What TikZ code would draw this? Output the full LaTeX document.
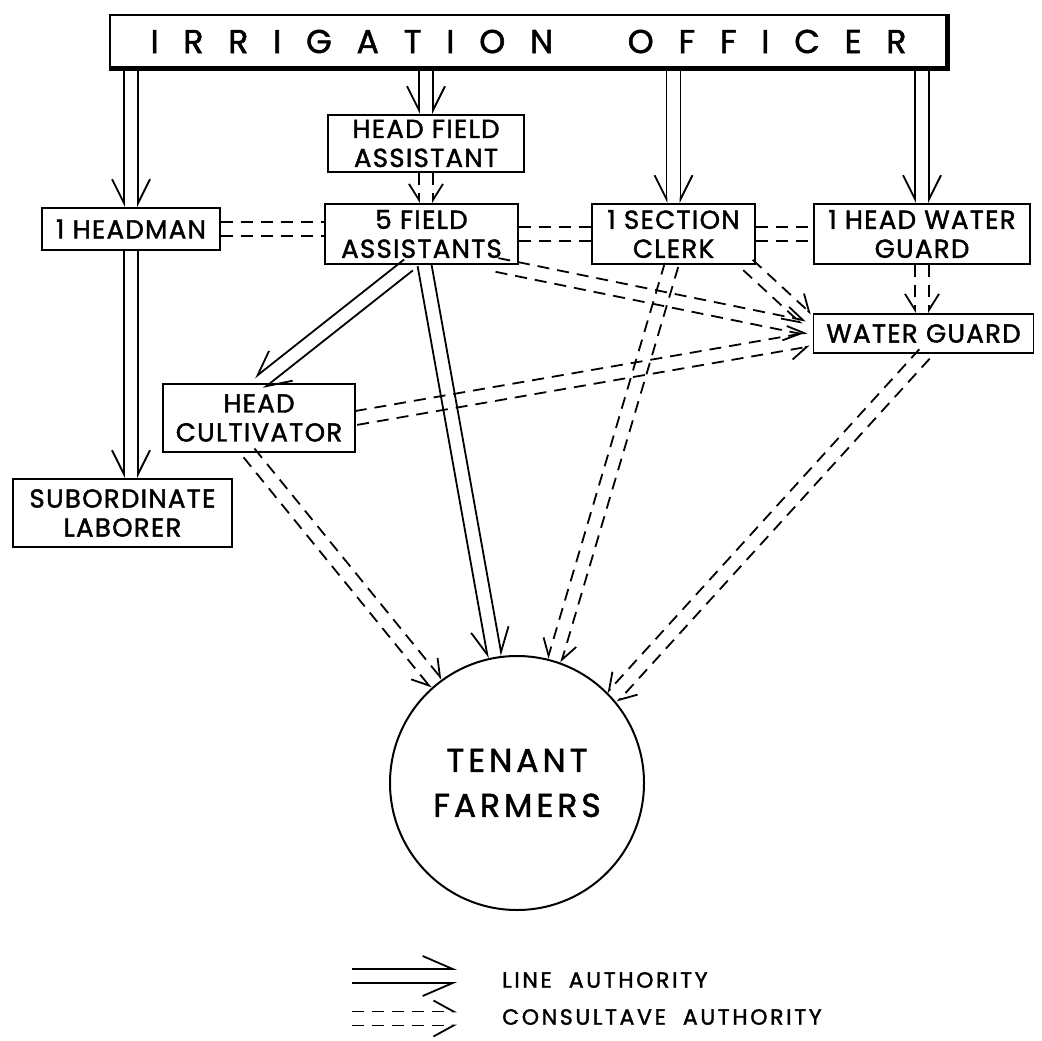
\documentclass[tikz,border=0pt]{standalone}
\usepackage{fontspec}
\setmainfont{Poppins}[FakeBold=1.6, LetterSpace=5]
\newfontfamily\wideff{Poppins}[FakeBold=1.6, LetterSpace=12]
\newfontfamily\plainff{Poppins}[FakeBold=1.6]
\usetikzlibrary{arrows.meta,calc}
\newcommand\dconn[4]{%
  \draw[#1,-{Straight Barb[left,#2]}] ($(#3)!7pt!90:(#4)$) -- ($(#4)!7pt!-90:(#3)$);
  \draw[#1,-{Straight Barb[right,#2]}] ($(#3)!7pt!-90:(#4)$) -- ($(#4)!7pt!90:(#3)$);
}
\newcommand\dplain[3]{%
  \draw[#1] ($(#2)!7pt!90:(#3)$) -- ($(#3)!7pt!-90:(#2)$);
  \draw[#1] ($(#2)!7pt!-90:(#3)$) -- ($(#3)!7pt!90:(#2)$);
}
\begin{document}
\begin{tikzpicture}[x=1pt,y=-1pt,
  box/.style={draw, line width=1.9pt, inner sep=0pt, align=center,
    font=\fontsize{26}{29}\selectfont},
  lineconn/.style={line width=1.8pt},
  consconn/.style={line width=1.8pt, dash pattern=on 12pt off 8pt},
  legtext/.style={anchor=west, inner sep=0pt, font=\wideff\fontsize{22}{22}\selectfont},
]
\useasboundingbox (0,0) rectangle (1042,1041);
% nodes
\node[draw, line width=1.9pt, minimum width=837pt, minimum height=53pt, inner sep=0pt] (io) at (528.5,41.5)
  {\makebox[756pt]{\plainff\fontsize{33}{33}\selectfont I\hfill R\hfill R\hfill I\hfill G\hfill A\hfill T\hfill I\hfill O\hfill N\hfill\hfill\hfill O\hfill F\hfill F\hfill I\hfill C\hfill E\hfill R}};
\draw[line width=5pt] (io.south west) -- (io.south east) -- (io.north east);
\node[box, minimum width=196pt, minimum height=57pt] (hfa) at (426,143.5) {HEAD FIELD\\ASSISTANT};
\node[box, minimum width=178pt, minimum height=42pt] (hm) at (131,229) {1 HEADMAN};
\node[box, minimum width=193pt, minimum height=60pt] (fa) at (421.5,234) {5 FIELD\\ASSISTANTS};
\node[box, minimum width=163pt, minimum height=60pt] (sc) at (673.5,234) {1 SECTION\\CLERK};
\node[box, minimum width=216pt, minimum height=60pt] (hwg) at (922,234) {1 HEAD WATER\\GUARD};
\node[box, minimum width=220pt, minimum height=39pt] (wg) at (923.5,333.5) {WATER GUARD};
\node[box, minimum width=192pt, minimum height=68pt] (hc) at (259,418) {HEAD\\CULTIVATOR};
\node[box, minimum width=219pt, minimum height=68pt] (sl) at (122.5,513) {SUBORDINATE\\LABORER};
\node[draw, circle, line width=2pt, minimum size=254pt, inner sep=0pt, align=center,
  font=\wideff\fontsize{33}{45}\selectfont] (tf) at (517,783) {TENANT\\FARMERS};
% endpoints
\coordinate (c1s) at (hm.north |- io.south);
\coordinate (c2s) at (hfa.north |- io.south);
\coordinate (c3s) at (sc.north |- io.south);
\coordinate (c4s) at (hwg.north |- io.south);
\coordinate (c5e) at (hm.south |- sl.north);
\coordinate (c6s) at ($(fa.south)+(-13,0)$);
\coordinate (c7s) at ($(fa.south)+(3,0)$);
\coordinate (d8e) at (hfa.south |- fa.north);
\coordinate (d9e) at (hm.east -| fa.west);
\coordinate (d10e) at (fa.east -| sc.west);
\coordinate (d11e) at (sc.east -| hwg.west);
\coordinate (d12e) at (hwg.south |- wg.north);
\coordinate (d13s) at ($(fa.south east)+(-22,0)$);
\coordinate (d13e) at ($(wg.west)+(-8,-6)$);
\coordinate (d14s) at ($(sc.south east)+(-8,0)$);
\coordinate (d14e) at ($(wg.north west)+(-6,6)$);
\coordinate (d15e) at ($(wg.west)+(-4,6)$);
\coordinate (d16s) at ($(sc.south)+(-2,0)$);
\coordinate (d17s) at ($(hc.south)+(-10,0)$);
\coordinate (d18s) at ($(wg.south)+(1,0)$);
% line authority
\dconn{lineconn}{length=24pt,width=24pt}{c1s}{hm.north}
\dconn{lineconn}{length=24pt,width=24pt}{c2s}{hfa.north}
\dconn{lineconn}{length=24pt,width=24pt}{c3s}{sc.north}
\dconn{lineconn}{length=24pt,width=24pt}{c4s}{hwg.north}
\dconn{lineconn}{length=24pt,width=24pt}{hm.south}{c5e}
\dconn{lineconn}{length=24pt,width=24pt}{c6s}{hc.north}
\dconn{lineconn}{length=24pt,width=24pt}{c7s}{tf.100}
% consultative
\dconn{consconn}{length=16pt,width=20pt}{hfa.south}{d8e}
\dplain{consconn}{hm.east}{d9e}
\dplain{consconn}{fa.east}{d10e}
\dplain{consconn}{sc.east}{d11e}
\dconn{consconn}{length=16pt,width=20pt}{hwg.south}{d12e}
\dconn{consconn}{length=16pt,width=20pt}{d13s}{d13e}
\dconn{consconn}{length=16pt,width=20pt}{d14s}{d14e}
\dconn{consconn}{length=16pt,width=20pt}{hc.east}{d15e}
\dconn{consconn}{length=16pt,width=20pt}{d16s}{tf.73}
\dconn{consconn}{length=16pt,width=20pt}{d17s}{tf.129}
\dconn{consconn}{length=16pt,width=20pt}{d18s}{tf.42}
% legend
\coordinate (lg1s) at (352,976);
\coordinate (lg1e) at (457,976);
\coordinate (lg2s) at (352,1018.5);
\coordinate (lg2e) at (457,1018.5);
\dconn{lineconn}{length=30pt,width=26pt}{lg1s}{lg1e}
\dconn{consconn}{length=20pt,width=22pt}{lg2s}{lg2e}
\node[legtext] (lt1) at (502,980) {LINE\ \ AUTHORITY};
\node[legtext] (lt2) at (502,1017) {CONSULTAVE\ \ AUTHORITY};
\end{tikzpicture}
\end{document}
